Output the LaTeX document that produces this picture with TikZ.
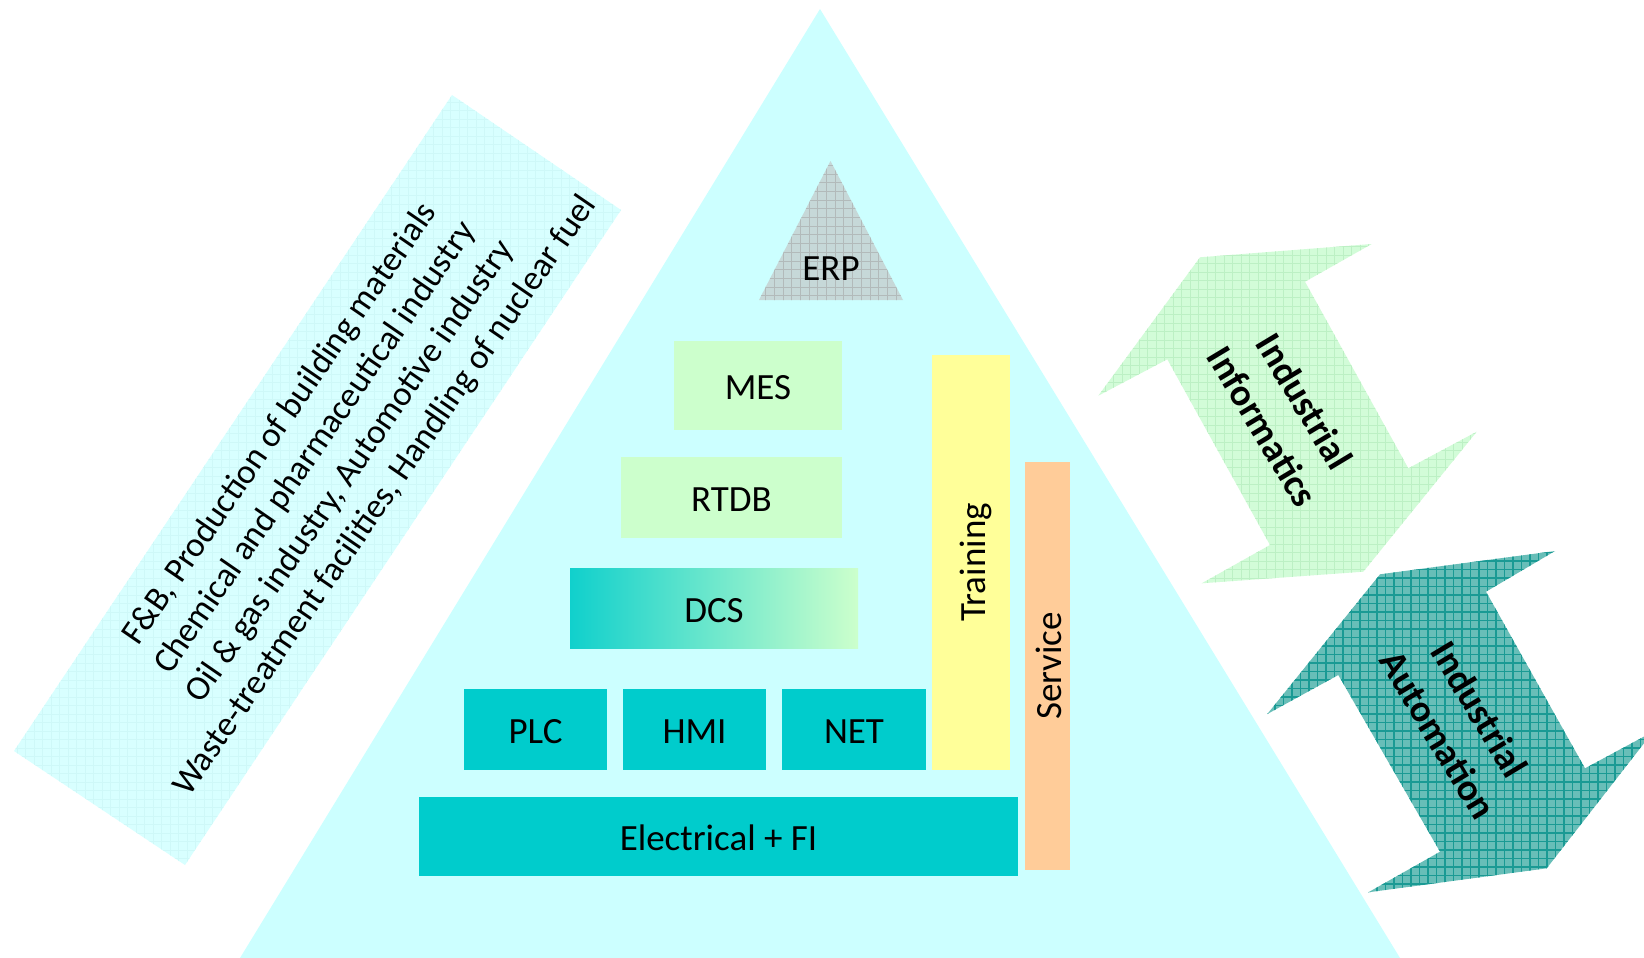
\documentclass[tikz,border=0pt]{standalone}
\usepackage{fontspec}
\setmainfont{Carlito}
\definecolor{tri}{RGB}{204,255,255}
\definecolor{lrect}{RGB}{216,255,255}
\definecolor{lrectline}{RGB}{206,248,248}
\definecolor{erpbase}{RGB}{198,216,216}
\definecolor{erpline}{RGB}{178,186,186}
\definecolor{infbase}{RGB}{210,252,216}
\definecolor{infline}{RGB}{188,240,196}
\definecolor{autbase}{RGB}{104,190,184}
\definecolor{autline}{RGB}{26,154,148}
\definecolor{cteal}{RGB}{0,204,204}
\definecolor{cgreen}{RGB}{204,255,204}
\definecolor{cyellow}{RGB}{255,255,153}
\definecolor{corange}{RGB}{255,204,153}
\begin{document}
\begin{tikzpicture}[x=0.5pt,y=-0.5pt,
  lbl/.style={font=\fontsize{18.5}{22}\selectfont, text=black, text height=14.4pt, text depth=0pt},
  box/.style={inner sep=0pt, outer sep=0pt},
  tealbox/.style={box, lbl, fill=cteal},
  greenbox/.style={box, lbl, fill=cgreen},
  arrowtext/.style={rotate=-59, align=center, font=\bfseries\fontsize{19}{24.3}\selectfont, text=black}]
\useasboundingbox (0,0) rectangle (1644,958);
\fill[white] (0,0) rectangle (1644,958);

% main triangle
\fill[tri] (820,9) -- (240,958) -- (1400,958) -- cycle;

% left tilted rectangle with sectors
\begin{scope}
  \clip (452,95) -- (621,210) -- (185,865) -- (14,751) -- cycle;
  \fill[lrect] (0,80) rectangle (640,880);
  \draw[lrectline, line width=0.4pt, step=4.25pt] (0,80) grid (640,880);
\end{scope}
\node[rotate=55.5, align=center, font=\fontsize{17.4}{21.2}\selectfont] (sectors) at (333,460)
  {F\&B, Production of building materials\\Chemical and pharmaceutical industry\\Oil \& gas industry, Automotive industry\\Waste-treatment facilities, Handling of nuclear fuel};

% Industrial Informatics arrow
\begin{scope}
  \clip (1200,257.3) -- (1371.7,244) -- (1305,281.7) -- (1408.3,468.3) -- (1476.7,431.7)
    -- (1363.3,571.7) -- (1201.7,583.3) -- (1270,545) -- (1167.3,359.3) -- (1098.3,395.7) -- cycle;
  \fill[infbase] (1090,235) rectangle (1490,595);
  \draw[infline, line width=0.5pt, step=4.25pt] (1090,235) grid (1490,595);
\end{scope}
\node[arrowtext] (informatics) at (1284,414) {Industrial\\Informatics};

% Industrial Automation arrow
\begin{scope}
  \clip (1380,574.3) -- (1555,551) -- (1486,591.7) -- (1585,768.3) -- (1653,731.7)
    -- (1546.7,868.3) -- (1368.3,892.3) -- (1440,851.7) -- (1338.3,675) -- (1267.3,714) -- cycle;
  \fill[autbase] (1260,540) rectangle (1660,900);
  \draw[autline, line width=0.6pt, step=4.25pt] (1260,540) grid (1660,900);
\end{scope}
\node[arrowtext] (automation) at (1459,722) {Industrial\\Automation};

% ERP triangle
\begin{scope}
  \clip (830.5,161) -- (903,300) -- (759,300) -- cycle;
  \fill[erpbase] (755,155) rectangle (905,302);
  \draw[erpline, line width=0.5pt, step=4.35pt] (755,155) grid (905,302);
\end{scope}
\node[lbl] (erp) at (831,266) {ERP};

% pyramid boxes
\node[greenbox, minimum width=84pt, minimum height=44.5pt] (mes) at (758,385.5) {MES};
\node[greenbox, minimum width=110.5pt, minimum height=40.5pt] (rtdb) at (731.5,497.5) {RTDB};
\node[box, lbl, minimum width=144pt, minimum height=40pt, left color=cteal!92!cgreen, right color=cgreen] (dcs) at (714,608) {DCS};
\node[tealbox, minimum width=71.5pt, minimum height=40.5pt] (plc) at (535.5,729.5) {PLC};
\node[tealbox, minimum width=71.5pt, minimum height=40.5pt] (hmi) at (694.5,729.5) {HMI};
\node[tealbox, minimum width=72pt, minimum height=40.5pt] (net) at (854,729.5) {NET};
\node[tealbox, minimum width=299.5pt, minimum height=39.5pt] (elec) at (718.5,836.5) {Electrical + FI};
\node[box, fill=cyellow, minimum width=39pt, minimum height=207.5pt] (trainbox) at (971,562.5) {};
\node[lbl, rotate=90] (training) at (trainbox.center) {Training};
\node[box, fill=corange, minimum width=22.5pt, minimum height=204pt] (servbox) at (1047.5,666) {};
\node[lbl, rotate=90] (service) at (servbox.center) {Service};
\end{tikzpicture}
\end{document}
